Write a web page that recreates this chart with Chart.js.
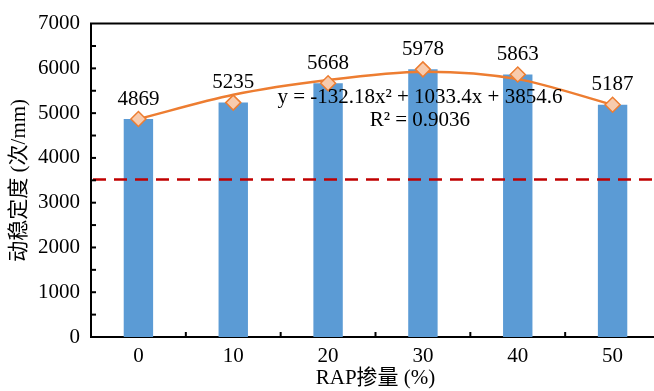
<!DOCTYPE html>
<html>
<head>
<meta charset="utf-8">
<script src="https://cdn.jsdelivr.net/npm/chart.js@4/dist/chart.umd.min.js"></script>
<style>
    body { margin: 0; background: #fff; overflow: hidden; }
    #wrap { width: 670px; height: 391px; }
</style>
</head>
<body>
<div id="wrap"><canvas id="stabilityChart" width="670" height="391"></canvas></div>
<script>
// RAP content (%) and dynamic stability (cycles/mm)
const rapLabels = ['0', '10', '20', '30', '40', '50'];
const stability = [4869, 5235, 5668, 5978, 5863, 5187];
// smoothed trend curve as drawn through the bars
const trendCurve = [4869, 5410, 5740, 5925, 5760, 5187];
const requirement = 3520;
const equationLines = ['y = -132.18x\u00b2 + 1033.4x + 3854.6', 'R\u00b2 = 0.9036'];

const serif = "'Liberation Serif', 'Noto Sans CJK SC', serif";
const fontSize = 21;
const orange = '#ED7D31';

// Inward tick marks, top frame line, dashed limit, labels and equation
const decorPlugin = {
    id: 'decor',
    afterDatasetsDraw(chart) {
        const ctx = chart.ctx;
        const area = chart.chartArea;
        const x = chart.scales.x;
        const y = chart.scales.y;
        ctx.save();

        // dashed requirement line
        const ry = y.getPixelForValue(requirement);
        ctx.strokeStyle = '#C00000';
        ctx.lineWidth = 2.5;
        ctx.setLineDash([13, 8]);
        ctx.beginPath();
        ctx.moveTo(area.left + 2, ry);
        ctx.lineTo(area.right, ry);
        ctx.stroke();
        ctx.setLineDash([]);

        // top frame
        ctx.strokeStyle = '#000';
        ctx.lineWidth = 2;
        ctx.beginPath();
        ctx.moveTo(area.left - 1, area.top);
        ctx.lineTo(area.right, area.top);
        ctx.stroke();

        // y ticks every 500, pointing inward
        for (let v = 500; v < 7000; v += 500) {
            const py = y.getPixelForValue(v);
            ctx.beginPath();
            ctx.moveTo(area.left, py);
            ctx.lineTo(area.left + 5, py);
            ctx.stroke();
        }
        // x ticks between categories
        for (let i = 0; i < rapLabels.length - 1; i++) {
            const px = (x.getPixelForValue(i) + x.getPixelForValue(i + 1)) / 2;
            ctx.beginPath();
            ctx.moveTo(px, area.bottom);
            ctx.lineTo(px, area.bottom - 5);
            ctx.stroke();
        }

        // value labels above the markers
        ctx.fillStyle = '#000';
        ctx.font = fontSize + 'px ' + serif;
        ctx.textAlign = 'center';
        ctx.textBaseline = 'middle';
        const pts = chart.getDatasetMeta(0).data;
        pts.forEach((p, i) => {
            ctx.fillText(String(stability[i]), p.x, p.y - 20);
        });

        // fitted equation
        const ex = x.getPixelForValue(3) - 3;
        ctx.fillText(equationLines[0], ex, y.getPixelForValue(5340));
        ctx.fillText(equationLines[1], ex, y.getPixelForValue(4830));
        ctx.restore();
    }
};

new Chart(document.getElementById('stabilityChart'), {
    data: {
        labels: rapLabels,
        datasets: [
            {
                type: 'line',
                data: stability,
                showLine: false,
                pointStyle: 'rectRot',
                pointRadius: 7.5,
                pointBackgroundColor: '#F8CBAD',
                pointBorderColor: orange,
                pointBorderWidth: 1.5,
                order: 0
            },
            {
                type: 'line',
                data: trendCurve,
                borderColor: orange,
                borderWidth: 2.5,
                tension: 0.3,
                pointRadius: 0,
                fill: false,
                order: 1
            },
            {
                type: 'bar',
                data: stability,
                backgroundColor: '#5B9BD5',
                borderWidth: 0,
                categoryPercentage: 0.31,
                barPercentage: 1,
                order: 2
            }
        ]
    },
    options: {
        responsive: false,
        animation: false,
        layout: { padding: { top: 20, right: 10, left: 0, bottom: 0 } },
        plugins: {
            legend: { display: false },
            tooltip: { enabled: false }
        },
        scales: {
            x: {
                grid: { display: false, drawTicks: false },
                border: { display: true, color: '#000', width: 2 },
                ticks: { color: '#000', padding: 7, font: { family: serif, size: fontSize } },
                title: {
                    display: true,
                    text: 'RAP掺量 (%)',
                    color: '#000',
                    padding: { top: 0, bottom: 0 },
                    font: { family: serif, size: fontSize }
                },
                afterFit: (scale) => { scale.height = 54; }
            },
            y: {
                min: 0,
                max: 7000,
                grid: { display: false, drawTicks: false },
                border: { display: true, color: '#000', width: 2 },
                ticks: {
                    stepSize: 1000,
                    color: '#000',
                    padding: 11,
                    font: { family: serif, size: fontSize },
                    callback: (value) => String(value)
                },
                title: {
                    display: true,
                    text: '动稳定度 (次/mm)',
                    color: '#000',
                    padding: { top: 7, bottom: 0 },
                    font: { family: serif, size: fontSize }
                },
                afterFit: (scale) => { scale.width = 91; }
            }
        }
    },
    plugins: [decorPlugin]
});
</script>
</body>
</html>
